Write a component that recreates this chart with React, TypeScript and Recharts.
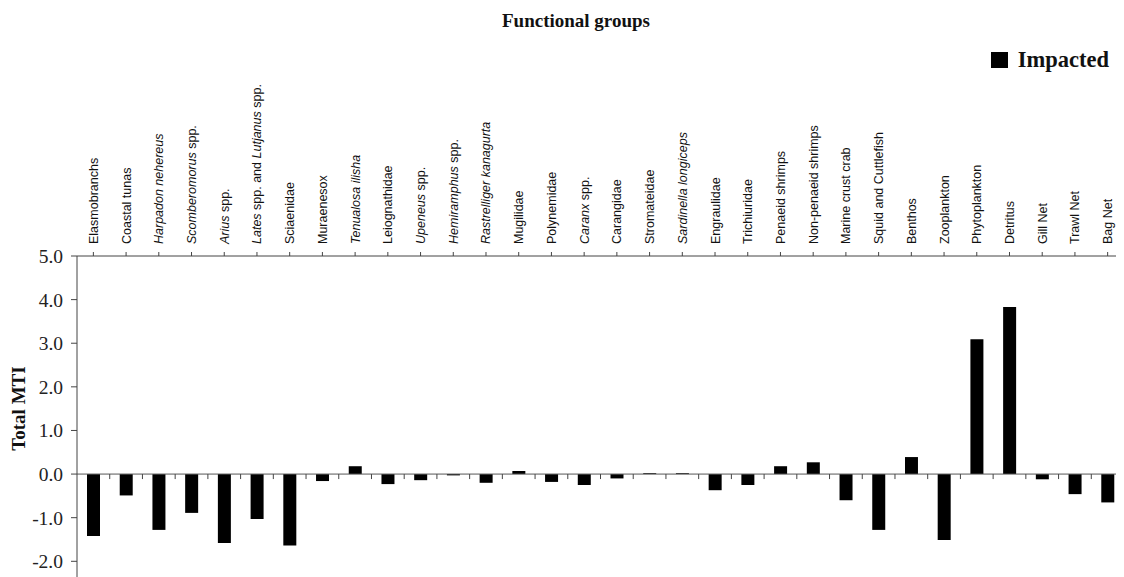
import React from "react";
import {
  BarChart,
  Bar,
  XAxis,
  YAxis,
  ReferenceLine,
  Legend,
} from "recharts";

// labels use _..._ to mark the italic parts
const groups = [
  "Elasmobranchs",
  "Coastal tunas",
  "_Harpadon nehereus_",
  "_Scomberomorus_ spp.",
  "_Arius_ spp.",
  "_Lates_ spp. and _Lutjanus_ spp.",
  "Sciaenidae",
  "Muraenesox",
  "_Tenualosa ilisha_",
  "Leiognathidae",
  "_Upeneus_ spp.",
  "_Hemiramphus_ spp.",
  "_Rastrelliger kanagurta_",
  "Mugilidae",
  "Polynemidae",
  "_Caranx_ spp.",
  "Carangidae",
  "Stromateidae",
  "_Sardinella longiceps_",
  "Engraulidae",
  "Trichiuridae",
  "Penaeid shrimps",
  "Non-penaeid shrimps",
  "Marine crust crab",
  "Squid and Cuttlefish",
  "Benthos",
  "Zooplankton",
  "Phytoplankton",
  "Detritus",
  "Gill Net",
  "Trawl Net",
  "Bag Net",
];

const impacted = [
  -1.42, -0.49, -1.28, -0.89, -1.58, -1.03, -1.64, -0.16, 0.18, -0.23,
  -0.14, -0.03, -0.2, 0.07, -0.18, -0.25, -0.1, 0.02, 0.02, -0.37,
  -0.25, 0.18, 0.27, -0.6, -1.28, 0.39, -1.51, 3.09, 3.83, -0.12,
  -0.46, -0.65,
];

const yTicks = [-2, -1, 0, 1, 2, 3, 4, 5];

const data = groups.map((g, i) => ({ group: g, impacted: impacted[i] }));

const serif = "'Liberation Serif', 'Times New Roman', serif";
const sans = "'Liberation Sans', Arial, sans-serif";

function GroupTick(props: any) {
  const { x, y, payload } = props;
  const parts = String(payload.value).split("_");
  const sx = x;
  const sy = y - 6;
  return (
    <text
      x={sx}
      y={sy}
      dy="0.36em"
      transform={`rotate(-90, ${sx}, ${sy})`}
      textAnchor="start"
      fontFamily={sans}
      fontSize={12.5}
      fill="#111"
    >
      {parts.map((p, i) =>
        p ? (
          <tspan key={i} fontStyle={i % 2 === 1 ? "italic" : "normal"}>
            {p}
          </tspan>
        ) : null
      )}
    </text>
  );
}

function ZeroLine(props: any) {
  const { x1, x2, y1 } = props;
  const n = groups.length;
  const step = (x2 - x1) / n;
  const ticks = [];
  for (let i = 1; i < n; i++) {
    const tx = x1 + step * i;
    ticks.push(<line key={i} x1={tx} x2={tx} y1={y1} y2={y1 + 5} stroke="#444" strokeWidth={1} />);
  }
  return (
    <g>
      <line x1={x1} x2={x2} y1={y1} y2={y1} stroke="#555" strokeWidth={1} />
      {ticks}
    </g>
  );
}

function LegendBox() {
  return (
    <div style={{ display: "flex", alignItems: "center", fontFamily: serif, fontWeight: "bold", fontSize: 22.5, color: "#111", lineHeight: "24px" }}>
      <span style={{ display: "inline-block", width: 17, height: 16, background: "#000", marginRight: 10 }} />
      Impacted
    </div>
  );
}

export default function App() {
  return (
    <div style={{ position: "relative", width: 1116, height: 569 }}>
      <div
        style={{
          position: "absolute",
          top: 2,
          left: 0,
          width: 1136,
          textAlign: "center",
          fontFamily: serif,
          fontWeight: "bold",
          fontSize: 19,
          color: "#111",
        }}
      >
        Functional groups
      </div>
      <BarChart
        width={1116}
        height={569}
        data={data}
        margin={{ top: 48, right: 0, bottom: 0, left: 9 }}
        barSize={13}
      >
        <XAxis
          dataKey="group"
          orientation="top"
          height={200}
          interval={0}
          tickSize={4}
          tickMargin={2}
          stroke="#444"
          tick={<GroupTick />}
        />
        <YAxis
          type="number"
          domain={[-2.36, 5]}
          ticks={yTicks}
          allowDataOverflow
          width={60}
          tickSize={6}
          tickMargin={8}
          stroke="#444"
          tickFormatter={(v: number) => v.toFixed(1)}
          tick={{ fontFamily: serif, fontSize: 19.5, fill: "#222" }}
          label={{
            content: ({ viewBox }: any) => (
              <text
                x={viewBox.x + 1}
                y={viewBox.y + viewBox.height / 2 - 8}
                transform={`rotate(-90, ${viewBox.x + 1}, ${viewBox.y + viewBox.height / 2 - 8})`}
                textAnchor="middle"
                dy="0.35em"
                fontFamily={serif}
                fontWeight="bold"
                fontSize={19}
                fill="#111"
              >
                Total MTI
              </text>
            ),
          }}
        />
        <Legend
          verticalAlign="top"
          align="right"
          content={() => <LegendBox />}
          wrapperStyle={{ position: "absolute", top: 40, right: 15, left: "auto", width: "auto", height: 0, overflow: "visible" }}
        />
        <ReferenceLine y={0} shape={<ZeroLine />} />
        <Bar dataKey="impacted" fill="#000" isAnimationActive={false} />
      </BarChart>
    </div>
  );
}
